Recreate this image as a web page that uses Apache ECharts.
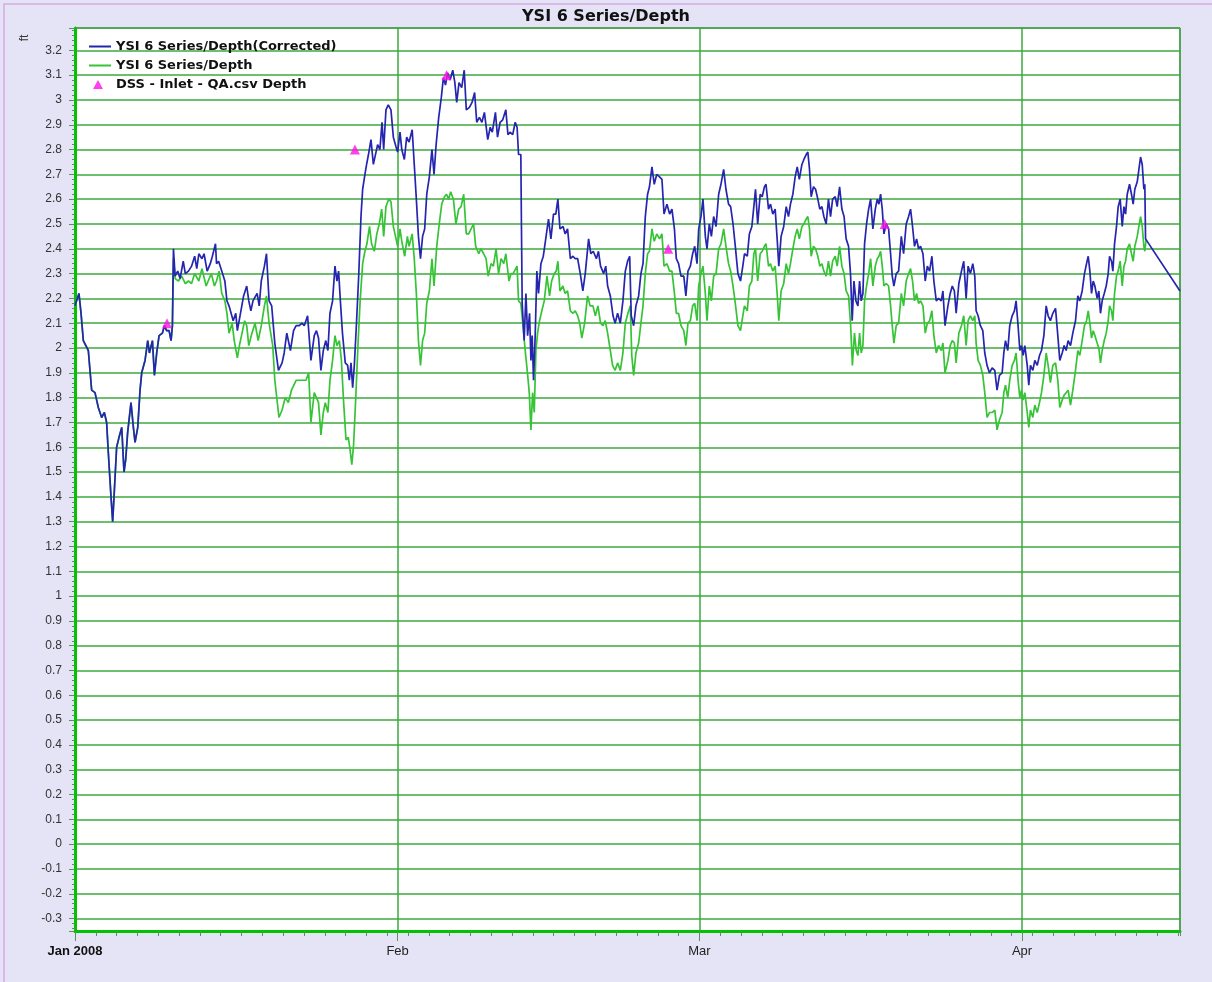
<!DOCTYPE html>
<html>
<head>
<meta charset="utf-8">
<title>YSI 6 Series/Depth</title>
<script src="https://cdn.jsdelivr.net/npm/echarts@6/dist/echarts.min.js"></script>
<style>
  html, body { margin: 0; padding: 0; background: #e4e4f6; }
  #chart { width: 1212px; height: 982px; }
</style>
</head>
<body>
<div id="chart"></div>
<script>
// time is kept as days since 1 Jan 2008 (UTC), depth in ft
const DAY = 86400000
const START = Date.UTC(2008, 0, 1)
const END_DAY = 106.18

const monthLabels = ['Jan 2008', 'Feb', 'Mar', 'Apr']
const seriesNames = ['YSI 6 Series/Depth(Corrected)', 'YSI 6 Series/Depth', 'DSS - Inlet - QA.csv Depth']

const blueDepth = [
  [0, 2.17], [0.38, 2.22], [0.58, 2.14], [0.8, 2.03], [1.28, 1.99], [1.6, 1.83], [1.92, 1.82], [2.24, 1.76],
  [2.56, 1.72], [2.82, 1.74], [3.04, 1.70], [3.2, 1.58], [3.46, 1.40], [3.62, 1.30], [3.75, 1.40], [4.0, 1.60],
  [4.23, 1.64], [4.49, 1.68], [4.71, 1.50], [4.87, 1.55], [5.06, 1.66], [5.38, 1.78], [5.61, 1.68], [5.77, 1.62],
  [6.03, 1.68], [6.25, 1.83], [6.41, 1.90], [6.73, 1.95], [6.99, 2.03], [7.15, 1.98], [7.44, 2.03], [7.63, 1.89],
  [7.85, 1.98], [8.08, 2.05], [8.4, 2.06], [8.59, 2.09], [8.81, 2.07], [9.04, 2.07], [9.23, 2.03], [9.36, 2.09],
  [9.46, 2.40], [9.62, 2.29], [9.87, 2.31], [10.1, 2.28], [10.4, 2.35], [10.6, 2.30], [10.9, 2.31], [11.2, 2.33],
  [11.5, 2.37], [11.7, 2.32], [11.9, 2.38], [12.2, 2.36], [12.4, 2.38], [12.7, 2.31], [13.0, 2.34], [13.2, 2.37],
  [13.5, 2.42], [13.6, 2.34], [13.8, 2.35], [14.1, 2.31], [14.4, 2.27], [14.6, 2.19], [14.8, 2.17], [15.0, 2.14],
  [15.2, 2.11], [15.45, 2.14], [15.6, 2.07], [15.9, 2.14], [16.2, 2.21], [16.5, 2.25], [16.7, 2.19], [16.9, 2.15],
  [17.1, 2.19], [17.5, 2.22], [17.7, 2.17], [17.9, 2.27], [18.2, 2.33], [18.4, 2.38], [18.65, 2.19], [18.9, 2.17],
  [19.2, 2.02], [19.55, 1.91], [19.9, 1.94], [20.1, 1.98], [20.35, 2.06], [20.7, 1.99], [21.0, 2.07], [21.25, 2.09],
  [21.55, 2.09], [21.8, 2.10], [22.03, 2.09], [22.35, 2.13], [22.67, 1.95], [22.99, 2.05], [23.2, 2.07], [23.4, 2.04],
  [23.63, 1.91], [23.86, 1.99], [24.1, 2.03], [24.3, 1.99], [24.5, 2.14], [24.75, 2.19], [24.98, 2.33], [25.17, 2.27],
  [25.33, 2.31], [25.5, 2.19], [25.7, 2.06], [25.97, 1.94], [26.2, 1.93], [26.36, 1.87], [26.52, 1.94], [26.68, 1.84],
  [26.84, 1.93], [27.06, 2.11], [27.26, 2.29], [27.48, 2.53], [27.64, 2.64], [27.86, 2.70], [28.02, 2.74], [28.2, 2.78],
  [28.44, 2.84], [28.67, 2.74], [28.86, 2.74], [29.08, 2.82], [29.3, 2.80], [29.5, 2.91], [29.66, 2.80], [29.88, 2.96],
  [30.1, 2.98], [30.36, 2.96], [30.59, 2.85], [30.85, 2.81], [31.0, 2.79], [31.23, 2.87], [31.4, 2.80], [31.65, 2.76],
  [31.87, 2.85], [32.1, 2.83], [32.4, 2.88], [32.6, 2.74], [32.8, 2.60], [33.0, 2.45], [33.2, 2.36], [33.4, 2.45],
  [33.6, 2.48], [33.8, 2.62], [34.05, 2.69], [34.3, 2.80], [34.5, 2.70], [34.7, 2.82], [34.95, 2.93], [35.2, 3.01],
  [35.4, 3.09], [35.6, 3.06], [35.8, 3.11], [36.04, 3.08], [36.3, 3.12], [36.5, 3.07], [36.68, 2.99], [36.9, 3.07],
  [37.16, 3.05], [37.4, 3.12], [37.6, 2.96], [37.9, 2.97], [38.15, 2.99], [38.4, 3.03], [38.6, 2.91], [38.86, 2.93],
  [39.1, 2.91], [39.34, 2.95], [39.66, 2.84], [39.9, 2.89], [40.1, 2.87], [40.4, 2.95], [40.6, 2.85], [40.85, 2.91],
  [41.1, 2.92], [41.4, 2.96], [41.6, 2.86], [41.8, 2.87], [42.06, 2.86], [42.3, 2.91], [42.48, 2.89], [42.62, 2.78],
  [42.84, 2.78], [42.9, 2.49], [42.97, 2.18], [43.16, 2.03], [43.33, 2.22], [43.49, 2.05], [43.68, 2.14], [43.81, 1.95],
  [43.93, 2.05], [44.06, 1.87], [44.22, 2.05], [44.38, 2.31], [44.54, 2.22], [44.77, 2.34], [45.0, 2.37], [45.3, 2.46],
  [45.5, 2.52], [45.73, 2.44], [45.98, 2.54], [46.2, 2.54], [46.4, 2.60], [46.6, 2.48], [46.9, 2.49], [47.1, 2.46],
  [47.33, 2.48], [47.6, 2.36], [47.85, 2.37], [48.07, 2.36], [48.3, 2.36], [48.55, 2.30], [48.8, 2.23], [49.03, 2.30],
  [49.35, 2.44], [49.57, 2.38], [49.8, 2.39], [50.1, 2.36], [50.3, 2.39], [50.5, 2.33], [50.8, 2.30], [51.0, 2.33],
  [51.18, 2.25], [51.44, 2.21], [51.7, 2.13], [51.9, 2.10], [52.14, 2.14], [52.4, 2.10], [52.65, 2.19], [52.88, 2.31],
  [53.1, 2.35], [53.3, 2.37], [53.45, 2.13], [53.68, 2.09], [53.9, 2.17], [54.16, 2.21], [54.38, 2.30], [54.58, 2.34],
  [54.8, 2.53], [55.02, 2.62], [55.2, 2.65], [55.44, 2.73], [55.66, 2.66], [55.9, 2.70], [56.17, 2.69], [56.4, 2.68],
  [56.6, 2.54], [56.88, 2.58], [57.14, 2.54], [57.36, 2.56], [57.6, 2.48], [57.78, 2.36], [58.0, 2.34], [58.23, 2.29],
  [58.5, 2.29], [58.7, 2.21], [58.9, 2.31], [59.13, 2.33], [59.35, 2.38], [59.55, 2.41], [59.77, 2.34], [59.93, 2.48],
  [60.15, 2.53], [60.34, 2.60], [60.57, 2.45], [60.73, 2.40], [60.95, 2.50], [61.15, 2.45], [61.37, 2.53], [61.6, 2.49],
  [61.85, 2.62], [62.07, 2.66], [62.33, 2.72], [62.55, 2.64], [62.8, 2.58], [63.0, 2.57], [63.23, 2.50], [63.45, 2.41],
  [63.7, 2.30], [63.95, 2.27], [64.17, 2.33], [64.33, 2.38], [64.6, 2.37], [64.8, 2.46], [65.04, 2.49], [65.23, 2.57],
  [65.39, 2.64], [65.6, 2.50], [65.84, 2.62], [66.03, 2.61], [66.25, 2.65], [66.4, 2.66], [66.64, 2.56], [66.83, 2.58],
  [67.05, 2.54], [67.28, 2.56], [67.47, 2.44], [67.63, 2.33], [67.85, 2.45], [68.1, 2.49], [68.34, 2.57], [68.56, 2.53],
  [68.75, 2.58], [68.98, 2.62], [69.2, 2.69], [69.4, 2.73], [69.6, 2.68], [69.85, 2.74], [70.04, 2.76], [70.26, 2.78],
  [70.42, 2.79], [70.58, 2.72], [70.74, 2.61], [70.96, 2.65], [71.16, 2.64], [71.38, 2.60], [71.57, 2.56], [71.77, 2.57],
  [71.96, 2.53], [72.18, 2.50], [72.4, 2.60], [72.6, 2.53], [72.8, 2.60], [73.05, 2.61], [73.24, 2.57], [73.47, 2.65],
  [73.69, 2.56], [73.9, 2.53], [74.1, 2.44], [74.33, 2.41], [74.52, 2.30], [74.68, 2.11], [74.85, 2.27], [75.04, 2.19],
  [75.23, 2.17], [75.39, 2.27], [75.55, 2.19], [75.71, 2.22], [75.87, 2.42], [76.06, 2.50], [76.26, 2.56], [76.45, 2.60],
  [76.67, 2.48], [76.9, 2.56], [77.09, 2.60], [77.25, 2.58], [77.41, 2.62], [77.57, 2.56], [77.73, 2.46], [77.95, 2.50],
  [78.18, 2.48], [78.37, 2.38], [78.53, 2.29], [78.69, 2.25], [78.91, 2.30], [79.14, 2.31], [79.4, 2.45], [79.62, 2.38],
  [79.87, 2.50], [80.1, 2.53], [80.29, 2.56], [80.48, 2.49], [80.67, 2.41], [80.87, 2.44], [81.06, 2.40], [81.25, 2.41],
  [81.48, 2.38], [81.7, 2.27], [81.9, 2.33], [82.12, 2.31], [82.34, 2.37], [82.53, 2.27], [82.76, 2.19], [82.98, 2.20],
  [83.24, 2.19], [83.4, 2.23], [83.6, 2.09], [83.88, 2.17], [84.1, 2.22], [84.3, 2.25], [84.5, 2.23], [84.67, 2.14],
  [84.93, 2.26], [85.18, 2.31], [85.4, 2.35], [85.63, 2.20], [85.82, 2.33], [86.04, 2.30], [86.27, 2.34], [86.46, 2.29],
  [86.59, 2.15], [86.78, 2.13], [87.0, 2.09], [87.23, 2.07], [87.42, 1.98], [87.64, 1.93], [87.87, 1.90], [88.13, 1.92],
  [88.38, 1.91], [88.6, 1.83], [88.83, 1.89], [89.09, 1.90], [89.25, 1.98], [89.41, 2.03], [89.63, 1.99], [89.82, 2.09],
  [90.05, 2.13], [90.27, 2.15], [90.43, 2.19], [90.62, 2.09], [90.79, 1.99], [90.95, 2.01], [91.11, 1.97], [91.27, 2.01],
  [91.5, 1.93], [91.65, 1.85], [91.81, 1.93], [92.04, 1.91], [92.23, 1.95], [92.46, 1.93], [92.68, 1.97], [92.87, 1.99],
  [93.1, 2.05], [93.32, 2.17], [93.51, 2.13], [93.73, 2.11], [93.96, 2.14], [94.22, 2.16], [94.44, 2.05], [94.63, 1.95],
  [94.86, 1.98], [95.05, 2.01], [95.24, 1.99], [95.43, 2.03], [95.66, 2.01], [95.88, 2.06], [96.14, 2.11], [96.36, 2.21],
  [96.55, 2.19], [96.78, 2.23], [97.0, 2.30], [97.2, 2.34], [97.36, 2.37], [97.52, 2.31], [97.68, 2.22], [97.84, 2.27],
  [98.0, 2.25], [98.22, 2.20], [98.38, 2.23], [98.54, 2.14], [98.7, 2.19], [98.9, 2.22], [99.09, 2.25], [99.28, 2.30],
  [99.41, 2.37], [99.6, 2.35], [99.73, 2.31], [99.89, 2.42], [100.08, 2.49], [100.24, 2.57], [100.43, 2.60], [100.63, 2.49],
  [100.79, 2.57], [100.95, 2.54], [101.11, 2.62], [101.33, 2.66], [101.52, 2.62], [101.68, 2.58], [101.84, 2.64], [102.07, 2.67],
  [102.23, 2.72], [102.39, 2.77], [102.55, 2.74], [102.71, 2.64], [102.8, 2.66], [102.87, 2.44], [106.18, 2.23]
]

const greenDepth = [
  [0, 2.17], [0.38, 2.22], [0.58, 2.14], [0.8, 2.03], [1.28, 1.99], [1.6, 1.83], [1.92, 1.82], [2.24, 1.76],
  [2.56, 1.72], [2.82, 1.74], [3.04, 1.70], [3.2, 1.58], [3.46, 1.40], [3.62, 1.30], [3.75, 1.40], [4.0, 1.60],
  [4.23, 1.64], [4.49, 1.68], [4.71, 1.50], [4.87, 1.55], [5.06, 1.66], [5.38, 1.78], [5.61, 1.68], [5.77, 1.62],
  [6.03, 1.68], [6.25, 1.83], [6.41, 1.90], [6.73, 1.95], [6.99, 2.03], [7.15, 1.98], [7.44, 2.03], [7.63, 1.89],
  [7.85, 1.98], [8.08, 2.05], [8.4, 2.06], [8.59, 2.09], [8.81, 2.07], [9.04, 2.07], [9.23, 2.03], [9.36, 2.09],
  [9.46, 2.36], [9.62, 2.28], [9.94, 2.27], [10.25, 2.29], [10.6, 2.26], [10.9, 2.27], [11.2, 2.26], [11.5, 2.30],
  [11.9, 2.27], [12.2, 2.32], [12.6, 2.25], [12.8, 2.27], [13.1, 2.30], [13.4, 2.25], [13.6, 2.27], [13.85, 2.31],
  [14.1, 2.22], [14.4, 2.19], [14.6, 2.14], [14.8, 2.06], [15.1, 2.10], [15.3, 2.03], [15.6, 1.96], [15.8, 2.01],
  [16.0, 2.05], [16.3, 2.11], [16.5, 2.09], [16.7, 2.01], [17.0, 2.06], [17.3, 2.10], [17.6, 2.03], [17.9, 2.09],
  [18.2, 2.17], [18.4, 2.21], [18.65, 2.10], [19.0, 2.01], [19.2, 1.87], [19.6, 1.72], [19.9, 1.75], [20.2, 1.80],
  [20.5, 1.78], [20.8, 1.83], [21.25, 1.87], [21.55, 1.87], [21.87, 1.87], [22.2, 1.87], [22.45, 1.90], [22.67, 1.70],
  [22.99, 1.82], [23.2, 1.80], [23.4, 1.78], [23.63, 1.65], [23.86, 1.74], [24.05, 1.78], [24.3, 1.74], [24.5, 1.87],
  [24.75, 1.95], [24.98, 2.05], [25.17, 2.01], [25.4, 2.03], [25.6, 1.95], [25.8, 1.79], [26.04, 1.63], [26.26, 1.64],
  [26.4, 1.60], [26.6, 1.53], [26.77, 1.61], [27.0, 1.82], [27.2, 2.02], [27.4, 2.19], [27.64, 2.34], [27.86, 2.39],
  [28.05, 2.42], [28.3, 2.49], [28.5, 2.42], [28.76, 2.39], [29.0, 2.46], [29.24, 2.50], [29.47, 2.56], [29.66, 2.45],
  [29.88, 2.57], [30.14, 2.60], [30.36, 2.59], [30.59, 2.49], [30.85, 2.44], [31.0, 2.41], [31.23, 2.48], [31.4, 2.43],
  [31.68, 2.37], [31.94, 2.45], [32.1, 2.41], [32.4, 2.46], [32.6, 2.36], [32.8, 2.22], [33.0, 2.03], [33.2, 1.93],
  [33.4, 2.03], [33.6, 2.06], [33.8, 2.18], [34.05, 2.23], [34.3, 2.36], [34.5, 2.25], [34.76, 2.41], [35.0, 2.50],
  [35.24, 2.58], [35.5, 2.61], [35.7, 2.62], [35.9, 2.60], [36.1, 2.63], [36.36, 2.60], [36.6, 2.50], [36.87, 2.56],
  [37.1, 2.57], [37.35, 2.62], [37.6, 2.46], [37.83, 2.46], [38.06, 2.48], [38.3, 2.50], [38.5, 2.41], [38.8, 2.38],
  [39.0, 2.40], [39.27, 2.38], [39.5, 2.36], [39.7, 2.29], [39.98, 2.34], [40.2, 2.33], [40.46, 2.40], [40.7, 2.30],
  [40.94, 2.36], [41.2, 2.34], [41.4, 2.38], [41.7, 2.27], [41.9, 2.30], [42.1, 2.30], [42.48, 2.33], [42.62, 2.19],
  [42.84, 2.18], [43.0, 2.11], [43.26, 1.99], [43.5, 1.89], [43.65, 1.82], [43.81, 1.67], [43.97, 1.82], [44.13, 1.74],
  [44.29, 1.99], [44.45, 2.06], [44.64, 2.11], [44.86, 2.15], [45.09, 2.19], [45.35, 2.29], [45.6, 2.21], [45.8, 2.27],
  [46.05, 2.30], [46.24, 2.31], [46.4, 2.35], [46.6, 2.23], [46.88, 2.25], [47.1, 2.22], [47.33, 2.23], [47.6, 2.15],
  [47.85, 2.14], [48.07, 2.15], [48.3, 2.13], [48.5, 2.10], [48.7, 2.04], [48.97, 2.10], [49.25, 2.21], [49.5, 2.17],
  [49.77, 2.17], [50.0, 2.13], [50.25, 2.17], [50.5, 2.10], [50.73, 2.09], [50.95, 2.11], [51.18, 2.06], [51.44, 1.99],
  [51.66, 1.93], [51.9, 1.91], [52.14, 1.94], [52.4, 1.91], [52.65, 1.98], [52.88, 2.10], [53.13, 2.14], [53.36, 2.17],
  [53.5, 1.97], [53.68, 1.89], [53.9, 1.98], [54.16, 2.02], [54.38, 2.10], [54.58, 2.17], [54.8, 2.30], [55.02, 2.38],
  [55.2, 2.39], [55.44, 2.48], [55.66, 2.43], [55.9, 2.46], [56.17, 2.44], [56.4, 2.46], [56.6, 2.33], [56.88, 2.34],
  [57.14, 2.31], [57.36, 2.31], [57.6, 2.22], [57.78, 2.14], [58.0, 2.14], [58.23, 2.09], [58.5, 2.07], [58.7, 2.01],
  [58.9, 2.10], [59.13, 2.11], [59.35, 2.17], [59.55, 2.18], [59.77, 2.11], [59.93, 2.25], [60.15, 2.30], [60.34, 2.33],
  [60.57, 2.22], [60.73, 2.11], [60.95, 2.25], [61.15, 2.19], [61.37, 2.29], [61.6, 2.30], [61.85, 2.40], [62.07, 2.42],
  [62.33, 2.48], [62.55, 2.41], [62.8, 2.34], [63.0, 2.31], [63.23, 2.25], [63.45, 2.18], [63.7, 2.09], [63.95, 2.07],
  [64.17, 2.13], [64.33, 2.17], [64.6, 2.15], [64.8, 2.25], [65.04, 2.27], [65.23, 2.38], [65.39, 2.40], [65.6, 2.27],
  [65.84, 2.38], [66.03, 2.39], [66.25, 2.41], [66.4, 2.42], [66.64, 2.33], [66.83, 2.34], [67.05, 2.31], [67.28, 2.33],
  [67.47, 2.22], [67.63, 2.11], [67.85, 2.23], [68.1, 2.26], [68.34, 2.34], [68.56, 2.30], [68.75, 2.34], [68.98, 2.40],
  [69.2, 2.45], [69.4, 2.48], [69.6, 2.44], [69.85, 2.49], [70.04, 2.50], [70.26, 2.52], [70.42, 2.53], [70.58, 2.48],
  [70.74, 2.37], [70.96, 2.41], [71.16, 2.40], [71.38, 2.37], [71.57, 2.33], [71.77, 2.34], [71.96, 2.31], [72.18, 2.29],
  [72.4, 2.35], [72.6, 2.29], [72.8, 2.35], [73.05, 2.37], [73.24, 2.33], [73.47, 2.41], [73.69, 2.33], [73.9, 2.30],
  [74.1, 2.23], [74.33, 2.21], [74.52, 2.10], [74.7, 1.93], [74.9, 2.06], [75.07, 1.99], [75.23, 1.97], [75.39, 2.06],
  [75.55, 1.98], [75.71, 2.01], [75.87, 2.19], [76.06, 2.25], [76.26, 2.30], [76.45, 2.36], [76.67, 2.25], [76.9, 2.33],
  [77.09, 2.36], [77.25, 2.37], [77.41, 2.39], [77.57, 2.33], [77.73, 2.25], [77.95, 2.26], [78.18, 2.25], [78.37, 2.17],
  [78.53, 2.09], [78.69, 2.02], [78.91, 2.09], [79.14, 2.10], [79.4, 2.22], [79.62, 2.17], [79.87, 2.27], [80.1, 2.30],
  [80.29, 2.32], [80.48, 2.27], [80.67, 2.19], [80.87, 2.22], [81.06, 2.18], [81.25, 2.19], [81.48, 2.17], [81.7, 2.06],
  [81.9, 2.10], [82.12, 2.11], [82.34, 2.15], [82.53, 2.05], [82.76, 1.98], [82.98, 2.01], [83.24, 1.99], [83.4, 2.02],
  [83.6, 1.90], [83.88, 1.95], [84.1, 2.01], [84.3, 2.03], [84.5, 2.02], [84.67, 1.94], [84.93, 2.06], [85.18, 2.09],
  [85.4, 2.13], [85.63, 2.01], [85.82, 2.11], [86.04, 2.13], [86.27, 2.11], [86.46, 2.13], [86.59, 2.02], [86.78, 1.95],
  [87.0, 1.93], [87.23, 1.89], [87.42, 1.82], [87.64, 1.72], [87.87, 1.74], [88.13, 1.74], [88.38, 1.75], [88.6, 1.67],
  [88.83, 1.71], [89.09, 1.74], [89.25, 1.82], [89.41, 1.85], [89.63, 1.80], [89.82, 1.87], [90.05, 1.93], [90.27, 1.95],
  [90.43, 1.98], [90.62, 1.87], [90.79, 1.80], [90.95, 1.83], [91.11, 1.79], [91.27, 1.82], [91.5, 1.74], [91.65, 1.68],
  [91.81, 1.75], [92.04, 1.72], [92.23, 1.77], [92.46, 1.74], [92.68, 1.78], [92.87, 1.82], [93.1, 1.89], [93.32, 1.98],
  [93.51, 1.93], [93.73, 1.86], [93.96, 1.93], [94.22, 1.94], [94.44, 1.87], [94.63, 1.76], [94.86, 1.79], [95.05, 1.81],
  [95.24, 1.82], [95.43, 1.83], [95.66, 1.77], [95.88, 1.83], [96.14, 1.91], [96.36, 1.99], [96.55, 1.97], [96.78, 2.03],
  [97.0, 2.09], [97.2, 2.11], [97.36, 2.15], [97.52, 2.10], [97.68, 2.04], [97.84, 2.07], [98.0, 2.05], [98.22, 2.02],
  [98.38, 2.00], [98.54, 1.94], [98.7, 1.99], [98.9, 2.03], [99.09, 2.06], [99.28, 2.11], [99.41, 2.17], [99.6, 2.15],
  [99.73, 2.11], [99.89, 2.22], [100.08, 2.29], [100.24, 2.31], [100.43, 2.35], [100.63, 2.25], [100.79, 2.33], [100.95, 2.35],
  [101.11, 2.40], [101.33, 2.42], [101.52, 2.38], [101.68, 2.35], [101.84, 2.41], [102.07, 2.45], [102.23, 2.49], [102.39, 2.53],
  [102.55, 2.49], [102.71, 2.41], [102.8, 2.39], [102.93, 2.44]
]

const dssDepth = [[8.84, 2.1], [26.9, 2.8], [35.7, 3.1], [57.0, 2.4], [77.8, 2.5]]

const FONT = 'Liberation Sans'
const WIDE_FONT = 'DejaVu Sans'
const GRID_GREEN = '#3caa3c'
const AXIS_GREEN = '#00c400'
const TICK_COLOR = '#5b8f5b'
const BLUE = '#2525b0'
const GREEN = '#36c436'
const MAGENTA = '#ff10e8'

function toTime(points) {
  return points.map(([d, v]) => [START + d * DAY, v])
}

function monthLabel(value) {
  const d = new Date(value)
  if (d.getUTCDate() !== 1 || d.getUTCHours() !== 0) return ''
  const m = d.getUTCMonth()
  return m === 0 ? '{b|' + monthLabels[0] + '}' : monthLabels[m]
}

const legendText = { fontFamily: WIDE_FONT, fontSize: 13, fontWeight: 'bold', color: '#111' }

const chart = echarts.init(document.getElementById('chart'))

chart.setOption({
  useUTC: true,
  animation: false,
  backgroundColor: '#e4e4f6',
  title: {
    text: 'YSI 6 Series/Depth',
    left: 'center',
    top: 4,
    textStyle: { fontFamily: WIDE_FONT, fontSize: 16, fontWeight: 'bold', color: '#111' },
  },
  graphic: [
    {
      type: 'rect',
      silent: true,
      shape: { x: 4, y: 4, width: 1400, height: 1200 },
      style: { fill: 'none', stroke: '#d9a9e3', lineWidth: 1.5 },
    },
    {
      type: 'text',
      x: 25,
      y: 38,
      rotation: Math.PI / 2,
      style: { text: 'ft', fontFamily: FONT, fontSize: 12, fill: '#333', align: 'center', verticalAlign: 'middle' },
    },
  ],
  grid: {
    left: 75,
    right: 32,
    top: 28,
    bottom: 51,
    show: true,
    backgroundColor: '#ffffff',
    borderColor: '#4a4a4a',
    borderWidth: 1,
  },
  legend: [
    {
      // the two depth lines: plain line icons
      orient: 'vertical',
      padding: 0,
      left: 88,
      top: 40,
      itemGap: 6,
      itemWidth: 22,
      itemHeight: 14,
      data: seriesNames.slice(0, 2).map((name) => ({ name, itemStyle: { opacity: 0 } })),
      textStyle: legendText,
    },
    {
      // the DSS samples: small triangle
      orient: 'vertical',
      padding: 0,
      left: 93,
      top: 78,
      itemWidth: 10,
      itemHeight: 9,
      data: [{ name: seriesNames[2], icon: 'triangle' }],
      textStyle: { ...legendText, padding: [0, 0, 0, 8] },
    },
  ],
  xAxis: [
    {
      type: 'time',
      min: START,
      max: START + END_DAY * DAY,
      splitNumber: 4,
      minInterval: 28 * DAY,
      maxInterval: 31 * DAY,
      axisLine: { show: true, onZero: false, lineStyle: { color: AXIS_GREEN, width: 3 } },
      axisTick: { show: true, length: 10, lineStyle: { color: TICK_COLOR } },
      axisLabel: {
        margin: 14,
        fontFamily: FONT,
        fontSize: 13,
        color: '#222',
        hideOverlap: false,
        showMaxLabel: false,
        formatter: monthLabel,
        rich: { b: { fontFamily: FONT, fontSize: 13, fontWeight: 'bold', color: '#111' } },
      },
      splitLine: { show: true, lineStyle: { color: GRID_GREEN, width: 1.5 } },
    },
    {
      // every second day, drawn as short ticks only
      type: 'value',
      min: 0,
      max: END_DAY,
      interval: 2,
      position: 'bottom',
      axisLine: { show: false, onZero: false },
      axisTick: { show: true, length: 5, lineStyle: { color: TICK_COLOR } },
      axisLabel: { show: false },
      splitLine: { show: false },
    },
  ],
  yAxis: {
    type: 'value',
    min: -0.35,
    max: 3.29,
    splitNumber: 36,
    minInterval: 0.1,
    maxInterval: 0.1,
    axisLine: { show: true, onZero: false, lineStyle: { color: AXIS_GREEN, width: 3 } },
    axisTick: { show: true, length: 6, lineStyle: { color: TICK_COLOR } },
    minorTick: { show: true, splitNumber: 5, length: 3, lineStyle: { color: TICK_COLOR } },
    axisLabel: {
      margin: 13,
      fontFamily: FONT,
      fontSize: 12,
      color: '#333',
      showMinLabel: false,
      showMaxLabel: false,
    },
    splitLine: { show: true, lineStyle: { color: GRID_GREEN, width: 1.5 } },
  },
  series: [
    {
      name: seriesNames[1],
      type: 'line',
      data: toTime(greenDepth),
      symbol: 'none',
      z: 2,
      lineStyle: { color: GREEN, width: 1.7 },
      itemStyle: { color: GREEN },
    },
    {
      name: seriesNames[0],
      type: 'line',
      data: toTime(blueDepth),
      symbol: 'none',
      z: 3,
      lineStyle: { color: BLUE, width: 1.7 },
      itemStyle: { color: BLUE },
    },
    {
      name: seriesNames[2],
      type: 'scatter',
      data: toTime(dssDepth),
      symbol: 'triangle',
      symbolSize: 10,
      z: 4,
      itemStyle: { color: MAGENTA },
    },
  ],
})

window.addEventListener('resize', () => chart.resize())
</script>
</body>
</html>
